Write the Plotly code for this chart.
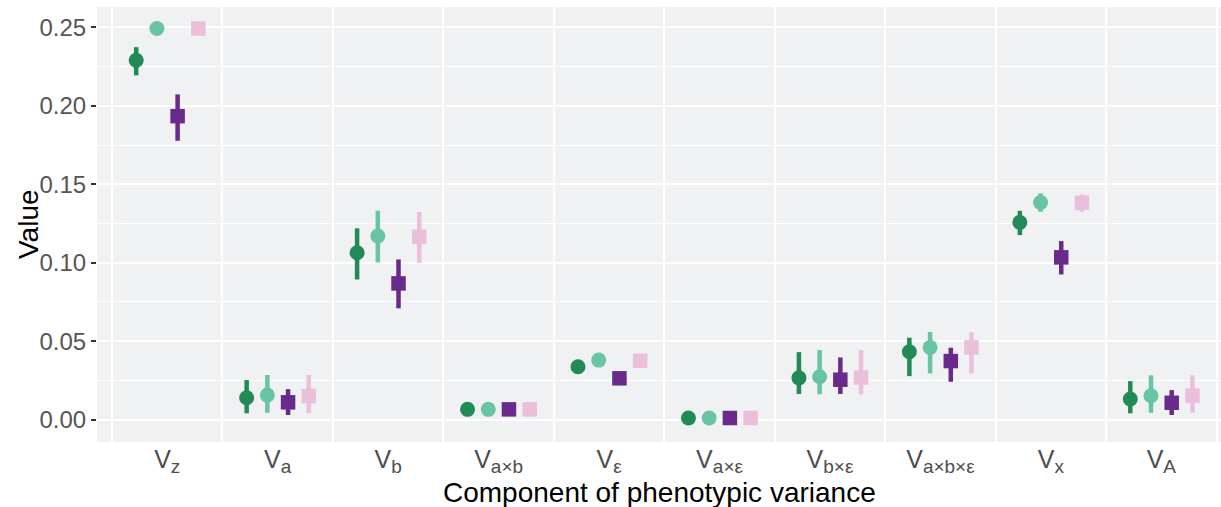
import plotly.graph_objects as go

categories = ["V<sub>z</sub>", "V<sub>a</sub>", "V<sub>b</sub>", "V<sub>a×b</sub>", "V<sub>ε</sub>",
              "V<sub>a×ε</sub>", "V<sub>b×ε</sub>", "V<sub>a×b×ε</sub>", "V<sub>x</sub>", "V<sub>A</sub>"]

# series 1: dark green circles
s1_val = [0.2291, 0.0139, 0.1063, 0.0065, 0.0337, 0.0010, 0.0266, 0.0432, 0.1257, 0.0131]
s1_lo  = [0.2194, 0.0040, 0.0893, 0.0055, 0.0327, 0.0004, 0.0163, 0.0277, 0.1176, 0.0040]
s1_hi  = [0.2374, 0.0252, 0.1219, 0.0075, 0.0347, 0.0016, 0.0430, 0.0522, 0.1331, 0.0245]
# series 2: mint circles
s2_val = [0.2493, 0.0156, 0.1170, 0.0065, 0.0379, 0.0010, 0.0273, 0.0460, 0.1384, 0.0152]
s2_lo  = [0.2485, 0.0043, 0.1002, 0.0055, 0.0369, 0.0004, 0.0161, 0.0294, 0.1325, 0.0043]
s2_hi  = [0.2500, 0.0284, 0.1331, 0.0075, 0.0389, 0.0016, 0.0443, 0.0558, 0.1442, 0.0282]
# series 3: purple squares
s3_val = [0.1934, 0.0110, 0.0868, 0.0065, 0.0263, 0.0010, 0.0254, 0.0373, 0.1034, 0.0107]
s3_lo  = [0.1777, 0.0029, 0.0709, 0.0055, 0.0253, 0.0004, 0.0163, 0.0241, 0.0925, 0.0029]
s3_hi  = [0.2073, 0.0194, 0.1021, 0.0075, 0.0273, 0.0016, 0.0396, 0.0458, 0.1138, 0.0188]
# series 4: pink squares
s4_val = [0.2493, 0.0150, 0.1165, 0.0065, 0.0375, 0.0010, 0.0268, 0.0460, 0.1382, 0.0152]
s4_lo  = [0.2485, 0.0043, 0.0999, 0.0055, 0.0365, 0.0004, 0.0161, 0.0294, 0.1325, 0.0043]
s4_hi  = [0.2500, 0.0284, 0.1324, 0.0075, 0.0385, 0.0016, 0.0443, 0.0556, 0.1435, 0.0282]

series = [
    (s1_val, s1_lo, s1_hi, "#218a55", "circle", -1.5),
    (s2_val, s2_lo, s2_hi, "#69c4a4", "circle", -0.5),
    (s3_val, s3_lo, s3_hi, "#6a2a8c", "square", 0.5),
    (s4_val, s4_lo, s4_hi, "#ebbedb", "square", 1.5),
]
dodge = 0.1875

# enlarge subscripts to match reference
ticktext = [c.replace("<sub>", '<sub><span style="font-size:19px">').replace("</sub>", "</span></sub>")
            for c in categories]

fig = go.Figure()
for val, lo, hi, col, sym, off in series:
    xs = [i + off * dodge for i in range(len(categories))]
    fig.add_trace(go.Scatter(
        x=xs, y=val, mode="markers",
        marker=dict(symbol=sym, size=15 if sym == "circle" else 14.5, color=col, line=dict(width=0)),
        error_y=dict(type="data", symmetric=False,
                     array=[h - v for h, v in zip(hi, val)],
                     arrayminus=[v - l for v, l in zip(val, lo)],
                     thickness=4.5, width=0, color=col),
        showlegend=False,
    ))

font_family = "Liberation Sans, Arial, sans-serif"
fig.update_layout(
    width=1221, height=507,
    margin=dict(l=97, r=0, t=7, b=65, autoexpand=False),
    paper_bgcolor="white", plot_bgcolor="#f0f1f2",
    font=dict(family=font_family),
    xaxis=dict(
        range=[-0.636, 9.54], automargin=False,
        tickmode="array", tickvals=list(range(len(categories))), ticktext=ticktext,
        showgrid=False, zeroline=False, ticks="",
        tickfont=dict(size=25, color="#4d4d4d"),
        minor=dict(tickmode="linear", tick0=-0.5, dtick=1, showgrid=True,
                   gridcolor="white", gridwidth=2, ticks=""),
    ),
    yaxis=dict(
        range=[-0.0143, 0.263], automargin=False,
        tickmode="linear", tick0=0, dtick=0.05, tickformat=".2f",
        showgrid=True, gridcolor="white", gridwidth=2, zeroline=False,
        ticks="outside", ticklen=5, tickwidth=1.5, tickcolor="#333333",
        tickfont=dict(size=24, color="#555555"),
        minor=dict(tickmode="linear", tick0=0.025, dtick=0.05, showgrid=True,
                   gridcolor="white", gridwidth=1, ticks=""),
    ),
    annotations=[
        dict(text="Component of phenotypic variance", xref="paper", yref="paper",
             x=0.5, y=-0.075, xanchor="center", yanchor="top", showarrow=False,
             font=dict(size=28, color="black")),
        dict(text="Value", xref="paper", yref="paper", x=-0.0765, y=0.5,
             xanchor="left", yanchor="middle", textangle=-90, showarrow=False,
             font=dict(size=28, color="black")),
    ],
)
fig.write_html("out.html", config={"displayModeBar": False},
               post_script="document.body.style.margin='0';")
